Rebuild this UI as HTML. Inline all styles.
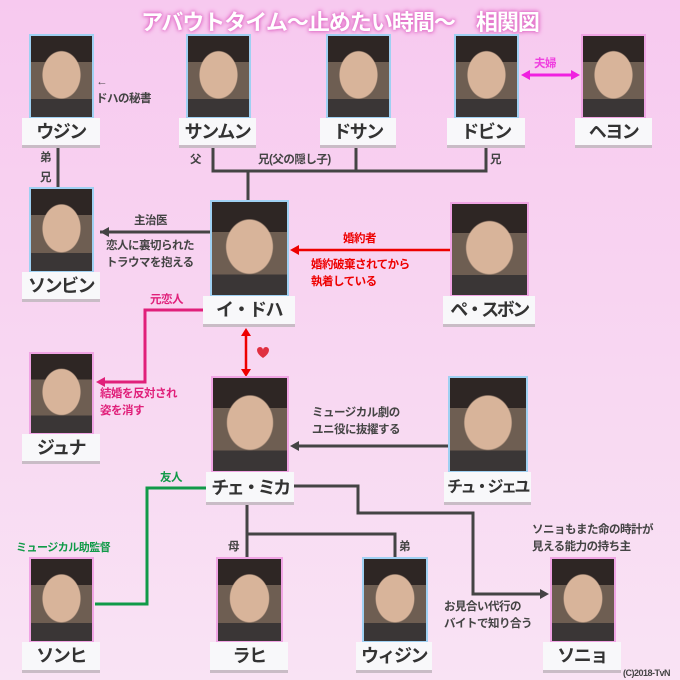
<!DOCTYPE html>
<html><head><meta charset="utf-8"><style>
*{margin:0;padding:0;box-sizing:border-box}
body{width:680px;height:680px;overflow:hidden;font-family:"Liberation Sans","Noto Sans CJK JP",sans-serif}
#c{position:relative;width:680px;height:680px;background:linear-gradient(#f7c9ef,#f9e3f4)}
.p{position:absolute;border:2px solid #9fd0f2;background:radial-gradient(ellipse 32% 30% at 50% 48%,#d8b49a 0 95%,transparent 100%),linear-gradient(#2e2624 0 32%,#6e5e52 32% 78%,#3a3636 78%)}
.f{border-color:#f0a4e4}
.l{position:absolute;background:#f8f8fa;border-bottom:3px solid #c9bcc6;font-weight:bold;color:#333;font-size:18px;text-align:center;line-height:28px;white-space:nowrap;letter-spacing:-1.5px;overflow:hidden}
.t{position:absolute;font-size:11.5px;font-weight:bold;color:#444;line-height:17px;white-space:nowrap;letter-spacing:-0.5px}
svg{position:absolute;left:0;top:0}
</style></head><body><div id="c">
<div style="position:absolute;left:0;top:5px;width:680px;text-align:center;font-size:22px;font-weight:bold;color:#fff;letter-spacing:-1px;text-shadow:0 0 4px #e070c8,0 0 3px #e070c8,0 0 6px #f090d8">アバウトタイム～止めたい時間～　相関図</div>

<svg width="680" height="680">
<g stroke="#444" stroke-width="3" fill="none">
<path d="M58 147V187"/>
<path d="M213 147V171H486V147M356 147V171M248 171V201"/>
<path d="M210 232H100"/>
<path d="M448 446H296"/>
<path d="M294 486H358V513H473V594H543"/>
<path d="M247 505V557M247 534H395V557"/>
</g>
<path d="M100 232l9-5v10z" fill="#444"/>
<path d="M290 446l9-5v10z" fill="#444"/>
<path d="M549 594l-9-5v10z" fill="#444"/>
<path d="M450 250H296" stroke="#e00" stroke-width="2.5"/>
<path d="M290 250l9-5v10z" fill="#e00"/>
<path d="M246 334V371" stroke="#e00" stroke-width="2.5"/>
<path d="M246 328l-5 8h10zM246 377l-5-8h10z" fill="#e00"/>
<path d="M257 350a3 3 0 0 1 6 0a3 3 0 0 1 6 0q0 4-6 8q-6-4-6-8z" fill="#e03040"/>
<path d="M203 310H145V382H103" stroke="#e0207a" stroke-width="3" fill="none"/>
<path d="M96 382l9-5v10z" fill="#e0207a"/>
<path d="M206 488H147V604H95" stroke="#109a48" stroke-width="3" fill="none"/>
<path d="M528 75H573" stroke="#f020e0" stroke-width="3"/>
<path d="M521 75l9-5v10zM580 75l-9-5v10z" fill="#f020e0"/>
</svg>

<div class="p" style="left:29px;top:34px;width:65px;height:85px"></div><div class="l" style="left:22px;top:118px;width:78px;height:30px">ウジン</div>
<div class="p" style="left:186px;top:34px;width:65px;height:85px"></div><div class="l" style="left:179px;top:118px;width:77px;height:30px">サンムン</div>
<div class="p" style="left:326px;top:34px;width:65px;height:85px"></div><div class="l" style="left:320px;top:118px;width:76px;height:30px">ドサン</div>
<div class="p" style="left:454px;top:34px;width:65px;height:85px"></div><div class="l" style="left:447px;top:118px;width:78px;height:30px">ドビン</div>
<div class="p f" style="left:581px;top:34px;width:65px;height:85px"></div><div class="l" style="left:575px;top:118px;width:77px;height:30px">ヘヨン</div>

<div class="p" style="left:29px;top:187px;width:65px;height:86px"></div><div class="l" style="left:22px;top:272px;width:78px;height:30px">ソンビン</div>
<div class="p" style="left:210px;top:200px;width:79px;height:97px"></div><div class="l" style="left:203px;top:296px;width:92px;height:31px">イ・ドハ</div>
<div class="p f" style="left:450px;top:202px;width:79px;height:95px"></div><div class="l" style="left:443px;top:296px;width:92px;height:31px;letter-spacing:-2.5px">ペ・スボン</div>

<div class="p f" style="left:29px;top:352px;width:65px;height:83px"></div><div class="l" style="left:22px;top:434px;width:78px;height:30px">ジュナ</div>
<div class="p f" style="left:211px;top:376px;width:78px;height:97px"></div><div class="l" style="left:206px;top:472px;width:88px;height:33px;line-height:32px;letter-spacing:-2.5px">チェ・ミカ</div>
<div class="p" style="left:448px;top:376px;width:80px;height:97px"></div><div class="l" style="left:444px;top:472px;width:87px;height:33px;line-height:32px;font-size:16px;letter-spacing:-2.5px">チュ・ジェユ</div>

<div class="p f" style="left:29px;top:557px;width:65px;height:86px"></div><div class="l" style="left:22px;top:642px;width:78px;height:31px">ソンヒ</div>
<div class="p f" style="left:216px;top:557px;width:67px;height:86px"></div><div class="l" style="left:210px;top:642px;width:78px;height:31px">ラヒ</div>
<div class="p" style="left:362px;top:557px;width:66px;height:86px"></div><div class="l" style="left:356px;top:642px;width:76px;height:31px">ウィジン</div>
<div class="p f" style="left:550px;top:557px;width:66px;height:86px"></div><div class="l" style="left:543px;top:642px;width:78px;height:31px">ソニョ</div>

<div class="t" style="left:96px;top:74px">←<br>ドハの秘書</div>
<div class="t" style="left:534px;top:56px;color:#f040e0">夫婦</div>
<div class="t" style="left:40px;top:150px">弟</div>
<div class="t" style="left:40px;top:170px">兄</div>
<div class="t" style="left:190px;top:152px">父</div>
<div class="t" style="left:258px;top:152px">兄(父の隠し子)</div>
<div class="t" style="left:490px;top:152px">兄</div>
<div class="t" style="left:134px;top:213px">主治医</div>
<div class="t" style="left:106px;top:238px">恋人に裏切られた<br>トラウマを抱える</div>
<div class="t" style="left:343px;top:231px;color:#e00">婚約者</div>
<div class="t" style="left:311px;top:257px;color:#e00">婚約破棄されてから<br>執着している</div>
<div class="t" style="left:150px;top:292px;color:#e0207a">元恋人</div>
<div class="t" style="left:100px;top:386px;color:#e0207a">結婚を反対され<br>姿を消す</div>
<div class="t" style="left:312px;top:405px">ミュージカル劇の<br>ユニ役に抜擢する</div>
<div class="t" style="left:160px;top:470px;color:#109a48">友人</div>
<div class="t" style="left:16px;top:540px;color:#109a48;font-size:11px">ミュージカル助監督</div>
<div class="t" style="left:228px;top:539px">母</div>
<div class="t" style="left:399px;top:539px">弟</div>
<div class="t" style="left:532px;top:522px">ソニョもまた命の時計が<br>見える能力の持ち主</div>
<div class="t" style="left:444px;top:599px">お見合い代行の<br>バイトで知り合う</div>
<div class="t" style="left:623px;top:668px;font-size:9px;line-height:11px">(C)2018-TvN</div>
</div></body></html>
